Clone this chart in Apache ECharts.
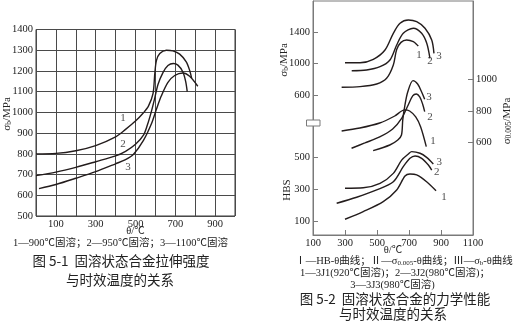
<!DOCTYPE html>
<html><head><meta charset="utf-8">
<script src="https://cdn.jsdelivr.net/npm/echarts@6/dist/echarts.min.js"></script>
<style>html,body{margin:0;padding:0;background:#fff}#c{width:514px;height:334px}</style>
</head><body><div id="c"></div>
<script>
// ---------- Figure 5-1 : tensile strength vs ageing temperature ----------
const fig1XTicks = [100, 300, 500, 700, 900];
const fig1Curve1 = [[0,800],[100,802],[200,815],[300,840],[400,882],[450,918],[500,958],[540,998],[565,1030],[588,1090],[597,1187],[605,1250],[622,1284],[655,1300],[688,1297],[722,1281],[755,1244],[772,1203],[782,1165]];
const fig1Curve2 = [[0,695],[100,712],[200,735],[300,762],[400,790],[450,812],[500,846],[540,890],[560,940],[580,1005],[597,1070],[613,1135],[638,1192],[663,1226],[690,1236],[713,1228],[738,1195],[752,1150],[760,1100]];
const fig1Curve3 = [[15,632],[100,652],[200,682],[300,714],[400,752],[450,772],[490,798],[540,865],[580,945],[605,1015],[630,1080],[663,1145],[697,1178],[738,1190],[772,1174],[813,1126]];
const fig1Labels = [[437,971,'1'],[437,845,'2'],[462,734,'3']];

// ---------- Figure 5-2 : mechanical properties vs ageing temperature ----------
const fig2XTicks = [100, 300, 500, 700, 900, 1100];
const sbTicks = [600, 1000, 1400];
const s005Ticks = [600, 800, 1000];
const hbsTicks = [100, 300, 500];
// III : sigma_b
const sb1 = [[279,696],[394,704],[498,738],[560,811],[602,981],[623,1180],[650,1270],[685,1300],[727,1279],[758,1224]];
const sb2 = [[342,908],[435,917],[519,959],[581,1045],[623,1236],[664,1386],[727,1450],[779,1386],[811,1258],[831,1066]];
const sb3 = [[300,1010],[394,1010],[477,1054],[550,1173],[602,1386],[644,1514],[696,1556],[748,1534],[800,1450],[842,1300],[856,1130]];
// II : sigma_0.005
const s1 = [[279,671],[393,690],[517,722],[611,767],[673,806],[704,799],[742,761],[773,697],[808,571]];
const s2 = [[341,560],[424,594],[517,633],[598,684],[655,754],[692,831],[723,896],[746,908],[767,889],[785,844],[798,795]];
const s3 = [[476,545],[580,581],[630,613],[653,645],[661,742],[673,827],[692,921],[725,994],[754,972],[779,921],[798,874]];
// I : HBS
const h1 = [[300,111],[414,159],[539,222],[623,296],[675,384],[706,397],[748,391],[810,348],[869,291]];
const h2 = [[248,212],[373,250],[498,296],[602,348],[664,443],[706,496],[738,511],[779,496],[821,454],[842,422]];
const h3 = [[300,307],[414,310],[519,338],[602,401],[654,485],[696,523],[717,538],[769,528],[810,502],[852,460]];
const sbLabels = [[762,1109,'1'],[831,1032,'2'],[888,1100,'3']];
const s005Labels = [[850,603,'1'],[831,763,'2'],[825,885,'3']];
const hbsLabels = [[919,250,'1'],[873,412,'2'],[889,475,'3']];

const SERIF = '"Liberation Serif","Noto Sans CJK SC",serif';
const CJK = '"Noto Sans CJK SC",sans-serif';
const INK = '#231c1c';
const lab = {fontSize: 10.5, color: '#222', fontFamily: SERIF, formatter: v => String(v)};

function line(data, xi, yi) {
  return {type:'line', data, xAxisIndex:xi, yAxisIndex:yi, smooth:0.3, showSymbol:false, clip:false,
    lineStyle:{color:INK, width:1.4}, silent:true};
}
function labels(data, xi, yi) {
  return {type:'scatter', xAxisIndex:xi, yAxisIndex:yi, symbolSize:1, itemStyle:{color:'rgba(0,0,0,0)'},
    data: data.map(d => ({value:[d[0], d[1]], name:d[2]})),
    label:{show:true, position:'inside', formatter:'{b}', fontSize:11, color:'#222', fontFamily:SERIF}};
}

const chart = echarts.init(document.getElementById('c'), null, {renderer:'canvas'});
const gray = '#7a7a7a';
chart.setOption({
  animation:false,
  backgroundColor:'#fff',
  grid:[
    {left:36, top:29.5, width:199, height:186.5, show:true, borderColor:'#3a3a3a', borderWidth:1},
    {left:313, top:1, width:160, height:234, show:true, borderColor:gray, borderWidth:1}
  ],
  xAxis:[
    {gridIndex:0, type:'value', min:0, max:1000, interval:100,
      axisLine:{show:false, onZero:false}, axisTick:{show:false},
      splitLine:{show:true, lineStyle:{color:'#4a4a4a', width:1}},
      axisLabel:Object.assign({}, lab, {margin:3, formatter:v => fig1XTicks.includes(v) ? String(v) : ''}),
      name:'θ/℃', nameLocation:'middle', nameGap:10, nameMoveOverlap:false,
      nameTextStyle:{fontSize:10.5, color:'#222', fontFamily:SERIF}},
    {gridIndex:1, type:'value', min:100, max:1100,
      axisLine:{show:true, onZero:false, lineStyle:{color:gray}},
      axisTick:{show:true, inside:true, length:5, customValues:[300,500,700,900], lineStyle:{color:gray}},
      splitLine:{show:false},
      axisLabel:Object.assign({}, lab, {margin:3, customValues:fig2XTicks}),
      name:'θ/℃', nameLocation:'middle', nameGap:10, nameMoveOverlap:false,
      nameTextStyle:{fontSize:10.5, color:'#222', fontFamily:SERIF}}
  ],
  yAxis:[
    {gridIndex:0, type:'value', min:500, max:1400, interval:100,
      axisLine:{show:false, onZero:false}, axisTick:{show:false},
      splitLine:{show:true, lineStyle:{color:'#4a4a4a', width:1}},
      axisLabel:Object.assign({}, lab, {margin:3})},
    {gridIndex:1, type:'value', position:'left', min:-1191.8, max:1798.7,
      axisLine:{show:true, onZero:false, lineStyle:{color:gray}},
      axisTick:{show:true, inside:true, length:5, customValues:sbTicks, lineStyle:{color:gray}},
      splitLine:{show:false},
      axisLabel:Object.assign({}, lab, {margin:3, customValues:sbTicks})},
    {gridIndex:1, type:'value', position:'left', min:11.5, max:1490,
      axisLine:{show:false, onZero:false},
      axisTick:{show:true, inside:true, length:5, customValues:hbsTicks, lineStyle:{color:gray}},
      splitLine:{show:false},
      axisLabel:Object.assign({}, lab, {margin:3, customValues:hbsTicks})},
    {gridIndex:1, type:'value', position:'right', min:3.8, max:1504.5,
      axisLine:{show:true, onZero:false, lineStyle:{color:gray}},
      axisTick:{show:true, inside:true, length:5, customValues:s005Ticks, lineStyle:{color:gray}},
      splitLine:{show:false},
      axisLabel:Object.assign({}, lab, {margin:3, customValues:s005Ticks})}
  ],
  series:[
    line(fig1Curve1,0,0), line(fig1Curve2,0,0), line(fig1Curve3,0,0), labels(fig1Labels,0,0),
    line(sb1,1,1), line(sb2,1,1), line(sb3,1,1), labels(sbLabels,1,1),
    line(s1,1,3), line(s2,1,3), line(s3,1,3), labels(s005Labels,1,3),
    line(h1,1,2), line(h2,1,2), line(h3,1,2), labels(hbsLabels,1,2)
  ],
  graphic:[
    // axis break on the left axis of Fig 5-2
    {type:'rect', z:100, shape:{x:306.5, y:120, width:13.5, height:6}, style:{fill:'#fff', stroke:gray, lineWidth:1}},
    // rotated axis titles
    {type:'text', x:7, y:114, rotation:Math.PI/2, z:100,
      style:{text:'{a|σ}{b|b}{a|/MPa}', align:'center', verticalAlign:'middle',
        rich:{a:{fontSize:11, fontFamily:SERIF, fill:'#222'}, b:{fontSize:7.5, fontFamily:SERIF, fill:'#222', verticalAlign:'bottom'}}}},
    {type:'text', x:284, y:60, rotation:Math.PI/2, z:100,
      style:{text:'{a|σ}{b|b}{a|/MPa}', align:'center', verticalAlign:'middle',
        rich:{a:{fontSize:11, fontFamily:SERIF, fill:'#222'}, b:{fontSize:7.5, fontFamily:SERIF, fill:'#222', verticalAlign:'bottom'}}}},
    {type:'text', x:287, y:190, rotation:Math.PI/2, z:100,
      style:{text:'HBS', align:'center', verticalAlign:'middle', fontSize:11, fontFamily:SERIF, fill:'#222'}},
    {type:'text', x:507, y:121, rotation:Math.PI/2, z:100,
      style:{text:'{a|σ}{b|0.005}{a|/MPa}', align:'center', verticalAlign:'middle',
        rich:{a:{fontSize:11, fontFamily:SERIF, fill:'#222'}, b:{fontSize:7.5, fontFamily:SERIF, fill:'#222', verticalAlign:'bottom'}}}},
    // captions Fig 5-1
    {type:'text', x:120.5, y:243, style:{text:'1—900℃固溶；2—950℃固溶；3—1100℃固溶', align:'center', verticalAlign:'middle', fontSize:10.5, fontFamily:SERIF, fill:'#222'}},
    {type:'text', x:121, y:261, style:{text:'图 5-1  固溶状态合金拉伸强度', align:'center', verticalAlign:'middle', fontSize:13.5, fontFamily:CJK, fill:'#222'}},
    {type:'text', x:120, y:280, style:{text:'与时效温度的关系', align:'center', verticalAlign:'middle', fontSize:13.5, fontFamily:CJK, fill:'#222'}},
    // captions Fig 5-2
    {type:'text', x:404, y:261.5, style:{text:'{a|Ⅰ—HB-θ曲线；Ⅱ—σ}{b|0.005}{a|-θ曲线；Ⅲ—σ}{b|b}{a|-θ曲线}', align:'center', verticalAlign:'middle',
      rich:{a:{fontSize:10.5, fontFamily:SERIF, fill:'#222'}, b:{fontSize:7, fontFamily:SERIF, fill:'#222', verticalAlign:'bottom'}}}},
    {type:'text', x:395, y:273.5, style:{text:'1—3J1(920℃固溶)；2—3J2(980℃固溶)；', align:'center', verticalAlign:'middle', fontSize:10.5, fontFamily:SERIF, fill:'#222'}},
    {type:'text', x:392.5, y:285.5, style:{text:'3—3J3(980℃固溶)', align:'center', verticalAlign:'middle', fontSize:10.5, fontFamily:SERIF, fill:'#222'}},
    {type:'text', x:395, y:298.5, style:{text:'图 5-2  固溶状态合金的力学性能', align:'center', verticalAlign:'middle', fontSize:13.5, fontFamily:CJK, fill:'#222'}},
    {type:'text', x:393, y:313.5, style:{text:'与时效温度的关系', align:'center', verticalAlign:'middle', fontSize:13.5, fontFamily:CJK, fill:'#222'}}
  ]
});
</script>
</body></html>
